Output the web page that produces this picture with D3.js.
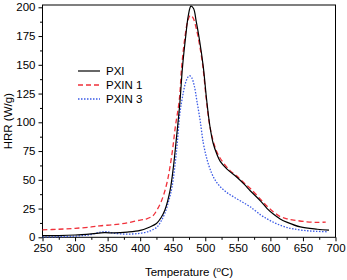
<!DOCTYPE html>
<html><head><meta charset="utf-8">
<script src="https://cdn.jsdelivr.net/npm/d3@7"></script>
<style>body{margin:0;background:#fff}svg{display:block}text{font-family:"Liberation Sans",Arial,sans-serif;}</style>
</head><body>
<script>
const xTicks = [250,300,350,400,450,500,550,600,650,700];
const yTicks = [0,25,50,75,100,125,150,175,200];
const seriesNames = ["PXI","PXIN 1","PXIN 3"];
const pxiT = [250,275,300,325,345,360,380,400,415,425,432,438,446,451,456,461,465,470,474,478,482,486,491,497,502,507,512,518,523,533,549,560,569,585,595,605,615,626,646,672,690];
const pxiV = [1.4,1.5,2,3,4,3.8,4.5,6,9,12,17,23.7,41,61,88,117,148,175,193,201,199,188,172,148,120,97,82,72,66,59.5,52,46,40.5,31.5,25,20,16,13,9,7,6.2];
const pxin1T = [250,275,300,325,338,360,380,400,410,420,426,433,441,449,454,460,464,469,473,477,481,486,491,496,501,506,512,518,525,538,549,560,570,585,595,605,615,626,636,656,672,685];
const pxin1V = [6.5,7,7.8,9,10,11,12.5,15,16,19,24,32,47,73,96,119,150,175,188,193,191,182,168,150,123,100,84,74,67,58,53,47,42,33,27,22,18,16,15,13.5,13,13.2];
const pxin3T = [250,275,300,320,340,350,360,380,400,415,426,432,438,444,449,456,461,465,469,473,476,479,483,487,492,497,503,510,516,523,533,544,556,569,585,595,605,615,626,636,656,670,688];
const pxin3V = [0.3,0.5,1,2,4.5,4.8,3.5,2.8,3.5,5.5,9,14,21,32,44,76,108,122,133,139,140.5,139,132,119,102,82,67,55.5,49,44,39,35,31,26.5,19.5,16,13,10.5,8.5,7.2,5.7,5.2,4.8];

const W=347,H=280;
const m={l:42.5,r:335.5,t:5,b:237.3};
const svg=d3.select("body").append("svg").attr("width",W).attr("height",H);
const x=d3.scaleLinear().domain([250,700]).range([m.l,m.r]);
const y=d3.scaleLinear().domain([0,202]).range([m.b,m.t]);

// frame
svg.append("rect").attr("x",m.l).attr("y",m.t).attr("width",m.r-m.l).attr("height",m.b-m.t)
  .attr("fill","none").attr("stroke","#000").attr("stroke-width",1);

const fs=11.5;
// x axis
const xa=svg.append("g").attr("transform",`translate(0,${m.b})`)
  .call(d3.axisBottom(x).tickValues(xTicks).tickSize(4).tickPadding(3).tickFormat(d3.format("d")));
const xm=svg.append("g").attr("transform",`translate(0,${m.b})`)
  .call(d3.axisBottom(x).tickValues(d3.range(275,700,50)).tickSize(2.5).tickFormat(""));
const ya=svg.append("g").attr("transform",`translate(${m.l},0)`)
  .call(d3.axisLeft(y).tickValues(yTicks).tickSize(4).tickPadding(3).tickFormat(d3.format("d")));
const ym=svg.append("g").attr("transform",`translate(${m.l},0)`)
  .call(d3.axisLeft(y).tickValues(d3.range(12.5,200,25)).tickSize(2.5).tickFormat(""));
[xa,xm,ya,ym].forEach(g=>{g.select(".domain").remove();g.selectAll("line").attr("stroke","#000");
  g.selectAll("text").attr("font-size",fs).attr("fill","#000").style("font-family","'Liberation Sans',Arial,sans-serif");});

// titles
const xt=svg.append("text").attr("x",(m.l+m.r)/2).attr("y",276).attr("text-anchor","middle").attr("font-size",fs);
xt.append("tspan").text("Temperature (");
xt.append("tspan").attr("font-size",8).attr("dy",-4).text("o");
xt.append("tspan").attr("dy",4).text("C)");
svg.append("text").attr("transform",`translate(12,${(m.t+m.b)/2}) rotate(-90)`).attr("text-anchor","middle")
  .attr("font-size",fs).text("HRR (W/g)");

const line=d3.line().x(d=>x(d[0])).y(d=>y(d[1])).curve(d3.curveCatmullRom.alpha(0.5));
const data=[d3.zip(pxiT,pxiV),d3.zip(pxin1T,pxin1V),d3.zip(pxin3T,pxin3V)];
const styles=[{c:"#000",d:null,w:1.2},{c:"#f0303a",d:"5,3",w:1.3},{c:"#3a5ae6",d:"1.5,1.5",w:1.3}];
const order=[2,1,0];
order.forEach(i=>{
  svg.append("path").datum(data[i]).attr("d",line).attr("fill","none")
    .attr("stroke",styles[i].c).attr("stroke-width",styles[i].w).attr("stroke-dasharray",styles[i].d);
});

// legend
seriesNames.forEach((n,i)=>{
  const yy=71+i*14;
  svg.append("line").attr("x1",78).attr("x2",100).attr("y1",yy).attr("y2",yy)
    .attr("stroke",styles[i].c).attr("stroke-width",styles[i].w).attr("stroke-dasharray",styles[i].d);
  svg.append("text").attr("x",106).attr("y",yy+4).attr("font-size",fs).text(n);
});
</script>
</body></html>
